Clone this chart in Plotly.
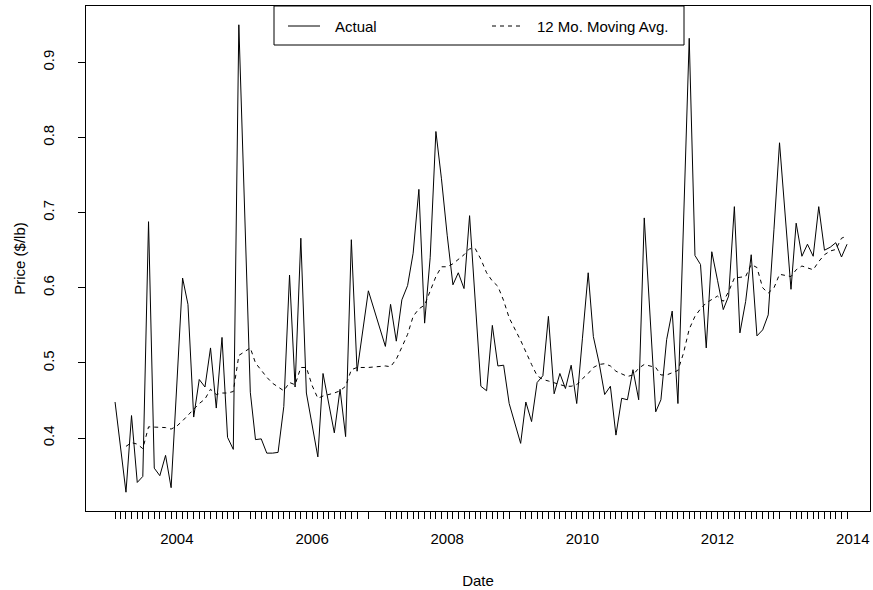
import plotly.graph_objects as go

# ---- data ----
dates = [
    "2003-02-01", "2003-03-01", "2003-04-01", "2003-05-01", "2003-06-01", "2003-07-01",
    "2003-08-01", "2003-09-01", "2003-10-01", "2003-11-01", "2003-12-01",
    "2004-01-01", "2004-02-01", "2004-03-01", "2004-04-01", "2004-05-01", "2004-06-01",
    "2004-07-01", "2004-08-01", "2004-09-01", "2004-10-01", "2004-11-01", "2004-12-01",
    "2005-02-01", "2005-03-01", "2005-04-01", "2005-05-01", "2005-06-01", "2005-07-01",
    "2005-08-01", "2005-09-01", "2005-10-01", "2005-11-01", "2005-12-01",
    "2006-01-01", "2006-02-01", "2006-03-01", "2006-04-01", "2006-05-01", "2006-06-01",
    "2006-07-01", "2006-08-01", "2006-09-01",
    "2006-11-01",
    "2007-02-01", "2007-03-01", "2007-04-01", "2007-05-01", "2007-06-01", "2007-07-01",
    "2007-08-01", "2007-09-01", "2007-10-01", "2007-11-01", "2007-12-01",
    "2008-01-01", "2008-02-01", "2008-03-01", "2008-04-01", "2008-05-01", "2008-06-01",
    "2008-07-01", "2008-08-01", "2008-09-01", "2008-10-01", "2008-11-01", "2008-12-01",
    "2009-02-01", "2009-03-01", "2009-04-01", "2009-05-01", "2009-06-01", "2009-07-01",
    "2009-08-01", "2009-09-01", "2009-10-01", "2009-11-01", "2009-12-01",
    "2010-01-01", "2010-02-01", "2010-03-01", "2010-04-01", "2010-05-01", "2010-06-01",
    "2010-07-01", "2010-08-01", "2010-09-01", "2010-10-01", "2010-11-01", "2010-12-01",
    "2011-02-01", "2011-03-01", "2011-04-01", "2011-05-01", "2011-06-01", "2011-07-01",
    "2011-08-01", "2011-09-01", "2011-10-01", "2011-11-01", "2011-12-01",
    "2012-01-01", "2012-02-01", "2012-03-01", "2012-04-01", "2012-05-01", "2012-06-01",
    "2012-07-01", "2012-08-01", "2012-09-01", "2012-10-01", "2012-11-01", "2012-12-01",
    "2013-02-01", "2013-03-01", "2013-04-01", "2013-05-01", "2013-06-01", "2013-07-01",
    "2013-08-01", "2013-09-01", "2013-10-01", "2013-11-01", "2013-12-01",
]

actual = [
    0.448, 0.388, 0.328, 0.430, 0.341, 0.349, 0.688, 0.360, 0.350, 0.377, 0.334,
    0.472, 0.613, 0.578, 0.428, 0.478, 0.468, 0.520, 0.440, 0.534, 0.401, 0.385, 0.950,
    0.461, 0.398, 0.399, 0.380, 0.380, 0.381, 0.442, 0.617, 0.468, 0.666, 0.460,
    0.418, 0.375, 0.486, 0.446, 0.407, 0.465, 0.402, 0.664, 0.489,
    0.596,
    0.522, 0.578, 0.529, 0.584, 0.603, 0.646, 0.731, 0.553, 0.640, 0.808, 0.745,
    0.670, 0.604, 0.620, 0.599, 0.696, 0.583, 0.469, 0.463, 0.550, 0.496, 0.497, 0.446,
    0.393, 0.448, 0.422, 0.474, 0.483, 0.562, 0.459, 0.486, 0.466, 0.497, 0.446,
    0.533, 0.620, 0.535, 0.500, 0.458, 0.469, 0.404, 0.453, 0.451, 0.491, 0.451, 0.693,
    0.435, 0.451, 0.531, 0.569, 0.446, 0.689, 0.932, 0.643, 0.631, 0.520, 0.648,
    0.610, 0.571, 0.589, 0.708, 0.540, 0.582, 0.644, 0.536, 0.544, 0.564, 0.678, 0.793,
    0.598, 0.686, 0.642, 0.658, 0.642, 0.708, 0.650, 0.654, 0.660, 0.641, 0.658,
]

moving_avg = [
    None, None, 0.389, 0.394, 0.392, 0.386, 0.415, 0.415, 0.414, 0.414, 0.412,
    0.416, 0.423, 0.430, 0.438, 0.446, 0.452, 0.465, 0.458, 0.460, 0.460, 0.462, 0.510,
    0.520, 0.500, 0.490, 0.481, 0.473, 0.468, 0.463, 0.474, 0.471, 0.494, 0.494,
    0.470, 0.453, 0.456, 0.458, 0.460, 0.463, 0.469, 0.491, 0.494,
    0.494,
    0.496, 0.495, 0.505, 0.521, 0.538, 0.562, 0.572, 0.577, 0.595, 0.615, 0.628,
    0.628, 0.632, 0.638, 0.644, 0.652, 0.652, 0.638, 0.620, 0.609, 0.602, 0.583, 0.560,
    0.530, 0.514, 0.498, 0.483, 0.478, 0.476, 0.474, 0.471, 0.469, 0.469, 0.471,
    0.479, 0.486, 0.494, 0.498, 0.499, 0.496, 0.489, 0.485, 0.482, 0.484, 0.493, 0.498,
    0.494, 0.484, 0.484, 0.487, 0.490, 0.513, 0.545, 0.562, 0.572, 0.580, 0.585,
    0.589, 0.582, 0.595, 0.613, 0.614, 0.615, 0.631, 0.627, 0.600, 0.593, 0.600, 0.618,
    0.615, 0.624, 0.629, 0.627, 0.624, 0.635, 0.644, 0.649, 0.651, 0.666, 0.669,
]

year_ticks = ["2004-01-01", "2006-01-01", "2008-01-01", "2010-01-01", "2012-01-01", "2014-01-01"]
year_labels = ["2004", "2006", "2008", "2010", "2012", "2014"]
y_ticks = [0.4, 0.5, 0.6, 0.7, 0.8, 0.9]
y_labels = ["0.4", "0.5", "0.6", "0.7", "0.8", "0.9"]

# ---- layout constants ----
W, H = 873, 590
L, R, T, B = 86, 3, 6, 79
PW, PH = W - L - R, H - T - B
FONT = "Liberation Sans, Arial, Helvetica, sans-serif"
FS = 15
x_range = ["2002-08-28", "2014-04-04"]
y_range = [0.303, 0.975]


def px(xp):
    return (xp - L) / PW


def py(yp):
    return (H - B - yp) / PH


fig = go.Figure()
fig.add_trace(go.Scatter(x=dates, y=actual, mode="lines", name="Actual",
                         line=dict(color="black", width=1), showlegend=False,
                         hoverinfo="x+y"))
fig.add_trace(go.Scatter(x=dates, y=moving_avg, mode="lines", name="12 Mo. Moving Avg.",
                         line=dict(color="black", width=1, dash="4px,4px"),
                         showlegend=False, hoverinfo="x+y"))
# carrier trace for the labelled year axis
fig.add_trace(go.Scatter(x=year_ticks, y=[0.5] * len(year_ticks), xaxis="x2", mode="lines",
                         line=dict(color="rgba(0,0,0,0)", width=0), showlegend=False,
                         hoverinfo="skip"))

# legend drawn in R style
shapes = [
    dict(type="rect", xref="paper", yref="paper", x0=px(274), x1=px(684), y0=py(45), y1=py(6),
         line=dict(color="black", width=1), fillcolor="white", layer="above"),
    dict(type="line", xref="paper", yref="paper", x0=px(288), x1=px(320), y0=py(26), y1=py(26),
         line=dict(color="black", width=1), layer="above"),
    dict(type="line", xref="paper", yref="paper", x0=px(492), x1=px(521), y0=py(26), y1=py(26),
         line=dict(color="black", width=1, dash="4px,4px"), layer="above"),
]
annotations = [
    dict(text="Actual", xref="paper", yref="paper", x=px(333), y=py(26), xanchor="left",
         yanchor="middle", showarrow=False, font=dict(family=FONT, size=FS, color="black")),
    dict(text="12 Mo. Moving Avg.", xref="paper", yref="paper", x=px(535), y=py(26),
         xanchor="left", yanchor="middle", showarrow=False,
         font=dict(family=FONT, size=FS, color="black")),
]

fig.update_layout(
    width=W, height=H,
    margin=dict(l=L, r=R, t=T, b=B, pad=0),
    paper_bgcolor="white", plot_bgcolor="white",
    font=dict(family=FONT, size=FS, color="black"),
    showlegend=False,
    shapes=shapes,
    annotations=annotations,
    xaxis=dict(type="date", range=x_range, tickmode="array", tickvals=dates,
               showticklabels=False, ticks="outside", ticklen=7, tickwidth=1,
               tickcolor="black", showline=True, linecolor="black", linewidth=1,
               mirror=True, showgrid=False, zeroline=False),
    xaxis2=dict(type="date", range=x_range, overlaying="x", anchor="y", side="bottom",
                tickmode="array", tickvals=year_ticks, ticktext=year_labels, ticks="",
                showline=False, showgrid=False, zeroline=False, ticklabelstandoff=17,
                tickfont=dict(family=FONT, size=FS, color="black"),
                title=dict(text="Date", standoff=29,
                           font=dict(family=FONT, size=FS, color="black"))),
    yaxis=dict(range=y_range, tickmode="array", tickvals=y_ticks, ticktext=y_labels,
               tickangle=-90, ticks="outside", ticklen=7, tickwidth=1, tickcolor="black",
               showline=True, linecolor="black", linewidth=1, mirror=True,
               showgrid=False, zeroline=False, ticklabelstandoff=18,
               tickfont=dict(family=FONT, size=FS, color="black"),
               title=dict(text="Price ($/lb)", standoff=10,
                          font=dict(family=FONT, size=FS, color="black"))),
)

fig.write_html("out.html",
               config={"displayModeBar": False},
               post_script="document.body.style.margin='0';document.body.style.padding='0';")
